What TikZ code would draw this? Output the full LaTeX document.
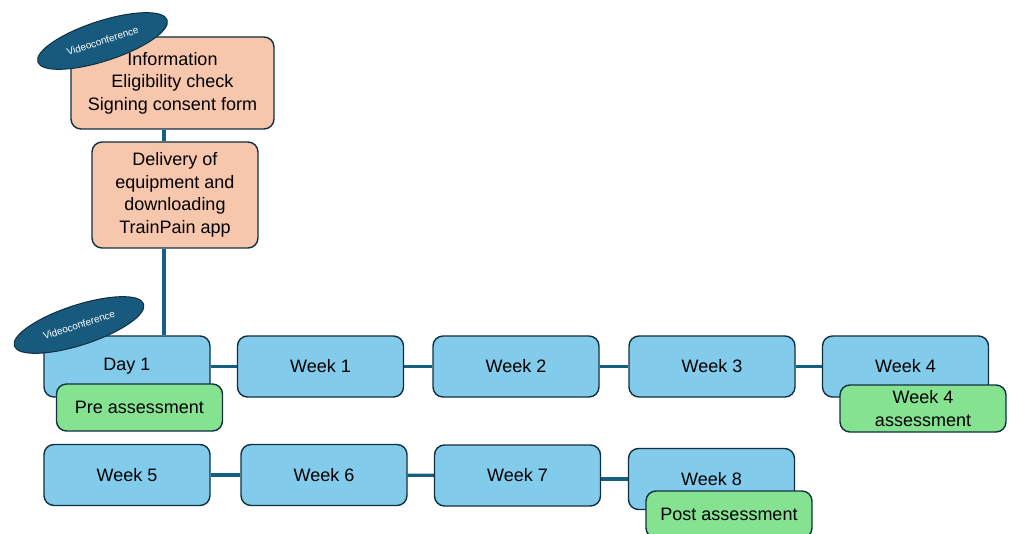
\documentclass[tikz,border=0pt]{standalone}
\usepackage{fontspec}
\setmainfont{Liberation Sans}
\usetikzlibrary{shapes.geometric,backgrounds}
\definecolor{peach}{HTML}{F6C6AD}
\definecolor{lblue}{HTML}{83CBEB}
\definecolor{lgreen}{HTML}{84E291}
\definecolor{edgec}{HTML}{10303F}
\definecolor{linkc}{HTML}{156082}
\definecolor{ellfill}{HTML}{185A7D}
\begin{document}
\begin{tikzpicture}[x=1pt,y=-1pt,
  box/.style={draw=edgec, line width=1.4pt, rounded corners=10pt, align=center,
    font=\fontsize{18}{22.5}\selectfont, inner sep=0pt},
  peachbox/.style={box, fill=peach},
  bluebox/.style={box, fill=lblue, minimum width=166pt, minimum height=61pt},
  greenbox/.style={box, fill=lgreen, minimum width=166pt, minimum height=47pt},
  vc/.style={ellipse, draw=edgec, fill=ellfill, line width=1pt, text=white,
    font=\fontsize{10}{11}\selectfont, minimum width=136pt, minimum height=40pt,
    inner sep=0pt, rotate=18},
  link/.style={draw=linkc, line width=3.2pt}]
\useasboundingbox (0,0) rectangle (1009,534);

\node[peachbox, minimum width=203pt, minimum height=92pt] (info) at (172.5,83)
  {Information\\Eligibility check\\Signing consent form};
\node[vc] (vc1) at (102.5,41) {Videoconference};
\node[peachbox, minimum width=166pt, minimum height=106pt] (deliv) at (175,195)
  {Delivery of\\equipment and\\downloading\\TrainPain app};

\node[bluebox] (day1) at (127,366.5) {Day 1};
\node[vc] (vc2) at (79,325) {Videoconference};
\node[greenbox] (pre) at (139.5,407.5) {Pre assessment};
\node[bluebox] (w1) at (320.5,366.5) {Week 1};
\node[bluebox] (w2) at (516,366.5) {Week 2};
\node[bluebox] (w3) at (712,366.5) {Week 3};
\node[bluebox] (w4) at (905.5,366.5) {Week 4};
\node[greenbox] (w4a) at (923,408.5) {Week 4\\assessment};

\node[bluebox] (w5) at (127,475) {Week 5};
\node[bluebox] (w6) at (324,475) {Week 6};
\node[bluebox] (w7) at (517.5,475.5) {Week 7};
\node[bluebox] (w8) at (711.5,479) {Week 8};
\node[greenbox] (post) at (729,514.5) {Post assessment};

\coordinate (vx) at (164,0);
\begin{scope}[on background layer]
  \fill[white] (0,0) rectangle (1009,534);
  \draw[link] (vx |- info.south) -- (vx |- deliv.north);
  \draw[link] (vx |- deliv.south) -- (vx |- day1.north);
  \draw[link] (day1) -- (w1);
  \draw[link] (w1) -- (w2);
  \draw[link] (w2) -- (w3);
  \draw[link] (w3) -- (w4);
  \draw[link] (w5) -- (w6);
  \draw[link] (w6) -- (w7);
  \draw[link] (w8.west -| w7.east) -- (w8.west);
\end{scope}
\end{tikzpicture}
\end{document}
